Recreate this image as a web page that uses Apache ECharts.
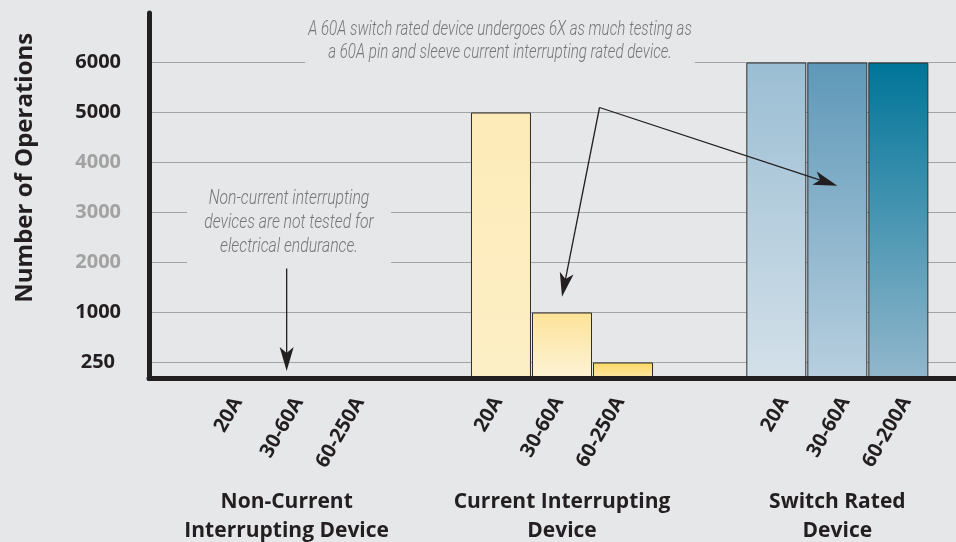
<!DOCTYPE html>
<html>
<head>
<meta charset="utf-8">
<script src="https://cdn.jsdelivr.net/npm/echarts@6.0.0/dist/echarts.min.js"></script>
<style>
  html, body { margin: 0; padding: 0; background: #e6e7e8; }
  #chart { width: 956px; height: 542px; }
</style>
</head>
<body>
<div id="chart"></div>
<script>
const groupNames = ["Non-Current\nInterrupting Device", "Current Interrupting\nDevice", "Switch Rated\nDevice"];
const ratingNames = [
  ["20A", "30-60A", "60-250A"],
  ["20A", "30-60A", "60-250A"],
  ["20A", "30-60A", "60-200A"]
];
// number of operations for each rating, one list per device group
const nonCurrentOps = [0, 0, 0];
const currentInterruptingOps = [5000, 1000, 250];
const switchRatedOps = [6000, 6000, 6000];
const yTicks = [250, 1000, 2000, 3000, 4000, 5000, 6000];
const yTicksDim = [2000, 3000, 4000];

const groupOps = [nonCurrentOps, currentInterruptingOps, switchRatedOps];

// top / bottom colours of each bar
const barFills = [
  [["#fdedbd", "#fdf0c9"], ["#fde398", "#fdf3d6"], ["#fdd862", "#fde9a8"]],
  [["#fdebb8", "#fdefc6"], ["#fde398", "#fdf3d6"], ["#fdd862", "#fde9a8"]],
  [["#9bbed4", "#d3e0e9"], ["#5e98b8", "#b8cfdf"], ["#007599", "#93b7cc"]]
];
// sideways nudge (px) of the rating labels in each group
const labelShift = [12, -3, 8];
const LABEL_ROTATE = 60;

const BG = "#e6e7e8";
const INK = "#231f20";
const FIRST_STEP = 0.32; // the 0 -> 250 step is drawn shorter than the others

// the value axis is stepped: every labelled tick is one unit apart
const toAxis = (v) => {
  if (v <= yTicks[0]) return (v / yTicks[0]) * FIRST_STEP;
  for (let i = 1; i < yTicks.length; i++) {
    if (v <= yTicks[i]) return FIRST_STEP + i - 1 + (v - yTicks[i - 1]) / (yTicks[i] - yTicks[i - 1]);
  }
  return FIRST_STEP + yTicks.length - 1;
};
const tickPos = yTicks.map(toAxis);
const labelOf = (p) => {
  const i = tickPos.findIndex((t) => Math.abs(t - p) < 1e-6);
  return i < 0 ? "" : yTicks[i];
};

const gradient = ([top, bottom]) =>
  new echarts.graphic.LinearGradient(0, 0, 0, 1, [
    { offset: 0, color: top },
    { offset: 1, color: bottom }
  ]);

// label offset works in the rotated frame, so turn a horizontal shift into it
const rad = (LABEL_ROTATE * Math.PI) / 180;
const sideways = (s) => [s * Math.cos(rad), s * Math.sin(rad)];

const boldFont = { fontFamily: "Open Sans", fontWeight: "bold", color: INK };
const noteFont = "italic 300 21px Roboto";

const series = [0, 1, 2].map((i) => ({
  type: "bar",
  barWidth: 60,
  barGap: "1.7%",
  data: groupOps.map((ops, g) => ({
    value: toAxis(ops[i]),
    itemStyle: { color: gradient(barFills[g][i]) },
    label: { offset: sideways(labelShift[g]) }
  })),
  itemStyle: { borderColor: "#2e2e2e", borderWidth: 1 },
  label: {
    show: true,
    position: "bottom",
    distance: 20,
    rotate: LABEL_ROTATE,
    align: "right",
    verticalAlign: "middle",
    formatter: (p) => ratingNames[p.dataIndex][i],
    fontSize: 20,
    ...boldFont
  }
}));

const notes = [
  {
    type: "text",
    x: 500,
    y: 41,
    scaleX: 0.72,
    z: 100,
    style: {
      text: "A 60A switch rated device undergoes 6X as much testing as\na 60A pin and sleeve current interrupting rated device.",
      font: noteFont,
      fill: "#767676",
      align: "center",
      verticalAlign: "middle",
      lineHeight: 23.5,
      backgroundColor: BG,
      padding: [4, 4, 4, 4]
    }
  },
  {
    type: "text",
    x: 289,
    y: 223,
    scaleX: 0.75,
    z: 100,
    style: {
      text: "Non-current interrupting\ndevices are not tested for\nelectrical endurance.",
      font: noteFont,
      fill: "#767676",
      align: "center",
      verticalAlign: "middle",
      lineHeight: 23.8,
      backgroundColor: BG,
      padding: [6, 23, 6, 23]
    }
  }
];

const option = {
  animation: false,
  backgroundColor: BG,
  grid: { left: 149, right: -19, top: 13, bottom: 163.5, outerBoundsMode: "none" },
  xAxis: {
    type: "category",
    data: groupNames,
    z: 3,
    axisLine: { lineStyle: { color: INK, width: 5 } },
    axisTick: { show: false },
    axisLabel: { interval: 0, margin: 109, fontSize: 21, lineHeight: 29, ...boldFont }
  },
  yAxis: {
    type: "value",
    min: 0,
    max: 7.31,
    name: "Number of Operations",
    nameLocation: "middle",
    nameRotate: 90,
    nameGap: 112,
    nameTextStyle: { fontSize: 24, padding: [0, 0, 0, 56], ...boldFont },
    axisLine: { show: true, lineStyle: { color: INK, width: 5 } },
    axisTick: { show: false, customValues: tickPos },
    axisLabel: {
      customValues: tickPos,
      margin: 28,
      formatter: (v) => {
        const t = labelOf(v);
        if (t === yTicks[0]) return `{low|${t}}`;
        return yTicksDim.includes(t) ? `{dim|${t}}` : `{dark|${t}}`;
      },
      rich: {
        dark: { fontSize: 20, ...boldFont },
        low: { fontSize: 20, ...boldFont, padding: [0, 6, 0, 0] },
        dim: { fontSize: 20, ...boldFont, color: "#a2a2a2" }
      }
    },
    splitLine: { show: true, lineStyle: { color: "#a3a3a3", width: 1 } }
  },
  graphic: notes,
  series
};

const myChart = echarts.init(document.getElementById("chart"));
myChart.setOption(option);

// arrows: start / end given in axis units (category index, stepped value)
const arrowPaths = [
  { from: null, to: [1, 1.636] },
  { from: null, to: [2, 3.856] },
  { from: [0, 2.2], to: [0, 0.15] }
];
const arrowVertex = [599.5, 107.5]; // shared corner of the two long arrows, in px

const arrowShapes = (p0, p1) => {
  const dx = p1[0] - p0[0];
  const dy = p1[1] - p0[1];
  const len = Math.hypot(dx, dy);
  const ux = dx / len;
  const uy = dy / len;
  const headLen = 24;
  const halfW = 7;
  const notch = 6;
  const bx = p1[0] - ux * headLen;
  const by = p1[1] - uy * headLen;
  const nx = p1[0] - ux * (headLen - notch);
  const ny = p1[1] - uy * (headLen - notch);
  return [
    {
      type: "line",
      z: 50,
      shape: { x1: p0[0], y1: p0[1], x2: nx, y2: ny },
      style: { stroke: INK, lineWidth: 1.3 }
    },
    {
      type: "polygon",
      z: 50,
      shape: { points: [p1, [bx - uy * halfW, by + ux * halfW], [nx, ny], [bx + uy * halfW, by - ux * halfW]] },
      style: { fill: INK }
    }
  ];
};

const arrows = [];
arrowPaths.forEach(({ from, to }) => {
  const p0 = from ? myChart.convertToPixel({ gridIndex: 0 }, from) : arrowVertex;
  const p1 = myChart.convertToPixel({ gridIndex: 0 }, to);
  arrows.push(...arrowShapes(p0, p1));
});

myChart.setOption({ graphic: notes.concat(arrows) });
</script>
</body>
</html>
